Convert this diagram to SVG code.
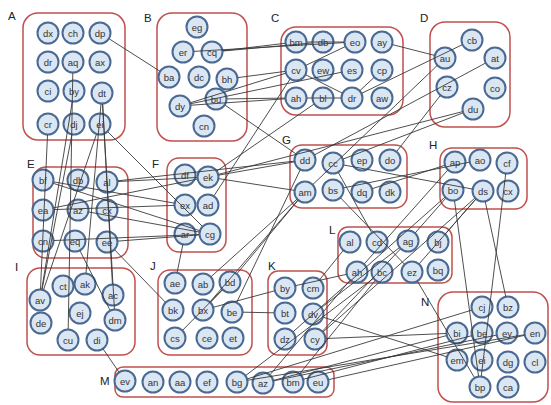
<svg xmlns="http://www.w3.org/2000/svg" width="551" height="405" viewBox="0 0 551 405">
  <style>
    .box { fill: none; stroke: #c0504d; stroke-width: 1.5; }
    .clabel { font-family: "Liberation Sans", Arial, sans-serif; font-size: 11.5px; fill: #222; }
    .n circle { fill: #dbe6f3; stroke: #4a6a94; stroke-width: 2; }
    .n text { font-family: "Liberation Sans", Arial, sans-serif; font-size: 9.5px; fill: #333; text-anchor: middle; dominant-baseline: central; }
    .edges line { stroke: #3a3a3a; stroke-width: 0.9; }
  </style>
  <rect width="551" height="405" fill="#ffffff"/>

  <!-- cluster frames -->
  <g id="clusters">
    <g id="cluster-A"><rect class="box" x="23" y="13" width="102" height="127" rx="15"/><text class="clabel" x="8" y="20">A</text></g>
    <g id="cluster-B"><rect class="box" x="157" y="13" width="90" height="128" rx="15"/><text class="clabel" x="144" y="22">B</text></g>
    <g id="cluster-C"><rect class="box" x="281" y="27" width="122" height="88" rx="15"/><text class="clabel" x="271" y="22">C</text></g>
    <g id="cluster-D"><rect class="box" x="430" y="22" width="80" height="105" rx="15"/><text class="clabel" x="420" y="22">D</text></g>
    <g id="cluster-E"><rect class="box" x="33" y="167" width="95" height="91" rx="13"/><text class="clabel" x="27" y="168">E</text></g>
    <g id="cluster-F"><rect class="box" x="167" y="158" width="59" height="94" rx="12"/><text class="clabel" x="152" y="168">F</text></g>
    <g id="cluster-G"><rect class="box" x="290" y="145" width="117" height="63" rx="12"/><text class="clabel" x="282" y="144">G</text></g>
    <g id="cluster-H"><rect class="box" x="440" y="148" width="87" height="61" rx="12"/><text class="clabel" x="429" y="149">H</text></g>
    <g id="cluster-I"><rect class="box" x="27" y="268" width="108" height="87" rx="13"/><text class="clabel" x="15" y="271">I</text></g>
    <g id="cluster-J"><rect class="box" x="158" y="270" width="94" height="85" rx="12"/><text class="clabel" x="150" y="270">J</text></g>
    <g id="cluster-K"><rect class="box" x="268" y="271" width="59" height="84" rx="10"/><text class="clabel" x="268" y="270">K</text></g>
    <g id="cluster-L"><rect class="box" x="338" y="227" width="114" height="56" rx="10"/><text class="clabel" x="329" y="234">L</text></g>
    <g id="cluster-M"><rect class="box" x="115" y="367" width="219" height="30" rx="8"/><text class="clabel" x="100" y="385">M</text></g>
    <g id="cluster-N"><rect class="box" x="438" y="292" width="110" height="110" rx="15"/><text class="clabel" x="421" y="306">N</text></g>
  </g>

  <!-- nodes -->
  <g id="nodes">
    <g id="A-dx" class="n" transform="translate(48,33)"><circle r="10.5"/><text>dx</text></g>
    <g id="A-ch" class="n" transform="translate(73,33)"><circle r="10.5"/><text>ch</text></g>
    <g id="A-dp" class="n" transform="translate(100,33)"><circle r="10.5"/><text>dp</text></g>
    <g id="A-dr" class="n" transform="translate(48,62)"><circle r="10.5"/><text>dr</text></g>
    <g id="A-aq" class="n" transform="translate(73,62)"><circle r="10.5"/><text>aq</text></g>
    <g id="A-ax" class="n" transform="translate(100,62)"><circle r="10.5"/><text>ax</text></g>
    <g id="A-ci" class="n" transform="translate(48,91)"><circle r="10.5"/><text>ci</text></g>
    <g id="A-by" class="n" transform="translate(74,91)"><circle r="10.5"/><text>by</text></g>
    <g id="A-dt" class="n" transform="translate(102,93)"><circle r="10.5"/><text>dt</text></g>
    <g id="A-cr" class="n" transform="translate(48,124)"><circle r="10.5"/><text>cr</text></g>
    <g id="A-dj" class="n" transform="translate(74,124)"><circle r="10.5"/><text>dj</text></g>
    <g id="A-ei" class="n" transform="translate(100,124)"><circle r="10.5"/><text>ei</text></g>

    <g id="B-eg" class="n" transform="translate(197,27)"><circle r="10.5"/><text>eg</text></g>
    <g id="B-er" class="n" transform="translate(183,52)"><circle r="10.5"/><text>er</text></g>
    <g id="B-cq" class="n" transform="translate(212,52)"><circle r="10.5"/><text>cq</text></g>
    <g id="B-ba" class="n" transform="translate(169,77)"><circle r="10.5"/><text>ba</text></g>
    <g id="B-dc" class="n" transform="translate(199,77)"><circle r="10.5"/><text>dc</text></g>
    <g id="B-bh" class="n" transform="translate(227,79)"><circle r="10.5"/><text>bh</text></g>
    <g id="B-dy" class="n" transform="translate(180,106)"><circle r="10.5"/><text>dy</text></g>
    <g id="B-bu" class="n" transform="translate(216,99)"><circle r="10.5"/><text>bu</text></g>
    <g id="B-cn" class="n" transform="translate(204,126)"><circle r="10.5"/><text>cn</text></g>

    <g id="C-bm" class="n" transform="translate(296,42)"><circle r="10.5"/><text>bm</text></g>
    <g id="C-db" class="n" transform="translate(323,42)"><circle r="10.5"/><text>db</text></g>
    <g id="C-eo" class="n" transform="translate(355,42)"><circle r="10.5"/><text>eo</text></g>
    <g id="C-ay" class="n" transform="translate(382,42)"><circle r="10.5"/><text>ay</text></g>
    <g id="C-cv" class="n" transform="translate(296,70)"><circle r="10.5"/><text>cv</text></g>
    <g id="C-ew" class="n" transform="translate(323,70)"><circle r="10.5"/><text>ew</text></g>
    <g id="C-es" class="n" transform="translate(352,70)"><circle r="10.5"/><text>es</text></g>
    <g id="C-cp" class="n" transform="translate(382,70)"><circle r="10.5"/><text>cp</text></g>
    <g id="C-ah" class="n" transform="translate(296,98)"><circle r="10.5"/><text>ah</text></g>
    <g id="C-bl" class="n" transform="translate(323,98)"><circle r="10.5"/><text>bl</text></g>
    <g id="C-dr" class="n" transform="translate(352,98)"><circle r="10.5"/><text>dr</text></g>
    <g id="C-aw" class="n" transform="translate(382,98)"><circle r="10.5"/><text>aw</text></g>

    <g id="D-cb" class="n" transform="translate(472,40)"><circle r="10.5"/><text>cb</text></g>
    <g id="D-au" class="n" transform="translate(445,58)"><circle r="10.5"/><text>au</text></g>
    <g id="D-at" class="n" transform="translate(495,58)"><circle r="10.5"/><text>at</text></g>
    <g id="D-cz" class="n" transform="translate(447,87)"><circle r="10.5"/><text>cz</text></g>
    <g id="D-co" class="n" transform="translate(495,88)"><circle r="10.5"/><text>co</text></g>
    <g id="D-du" class="n" transform="translate(473,109)"><circle r="10.5"/><text>du</text></g>

    <g id="E-bf" class="n" transform="translate(43,180)"><circle r="10.5"/><text>bf</text></g>
    <g id="E-db" class="n" transform="translate(78,180)"><circle r="10.5"/><text>db</text></g>
    <g id="E-al" class="n" transform="translate(107,182)"><circle r="10.5"/><text>al</text></g>
    <g id="E-ea" class="n" transform="translate(43,210)"><circle r="10.5"/><text>ea</text></g>
    <g id="E-az" class="n" transform="translate(78,210)"><circle r="10.5"/><text>az</text></g>
    <g id="E-cx" class="n" transform="translate(107,210)"><circle r="10.5"/><text>cx</text></g>
    <g id="E-cn" class="n" transform="translate(43,241)"><circle r="10.5"/><text>cn</text></g>
    <g id="E-eq" class="n" transform="translate(75,241)"><circle r="10.5"/><text>eq</text></g>
    <g id="E-ee" class="n" transform="translate(107,242)"><circle r="10.5"/><text>ee</text></g>

    <g id="F-df" class="n" transform="translate(185,175)"><circle r="10.5"/><text>df</text></g>
    <g id="F-ek" class="n" transform="translate(208,177)"><circle r="10.5"/><text>ek</text></g>
    <g id="F-ex" class="n" transform="translate(185,205)"><circle r="10.5"/><text>ex</text></g>
    <g id="F-ad" class="n" transform="translate(208,205)"><circle r="10.5"/><text>ad</text></g>
    <g id="F-ar" class="n" transform="translate(185,234)"><circle r="10.5"/><text>ar</text></g>
    <g id="F-cg" class="n" transform="translate(210,234)"><circle r="10.5"/><text>cg</text></g>

    <g id="G-dd" class="n" transform="translate(305,160)"><circle r="10.5"/><text>dd</text></g>
    <g id="G-cc" class="n" transform="translate(333,163)"><circle r="10.5"/><text>cc</text></g>
    <g id="G-ep" class="n" transform="translate(362,160)"><circle r="10.5"/><text>ep</text></g>
    <g id="G-do" class="n" transform="translate(390,160)"><circle r="10.5"/><text>do</text></g>
    <g id="G-am" class="n" transform="translate(305,192)"><circle r="10.5"/><text>am</text></g>
    <g id="G-bs" class="n" transform="translate(333,190)"><circle r="10.5"/><text>bs</text></g>
    <g id="G-dq" class="n" transform="translate(362,192)"><circle r="10.5"/><text>dq</text></g>
    <g id="G-dk" class="n" transform="translate(390,192)"><circle r="10.5"/><text>dk</text></g>

    <g id="H-ap" class="n" transform="translate(455,162)"><circle r="10.5"/><text>ap</text></g>
    <g id="H-ao" class="n" transform="translate(480,160)"><circle r="10.5"/><text>ao</text></g>
    <g id="H-cf" class="n" transform="translate(507,163)"><circle r="10.5"/><text>cf</text></g>
    <g id="H-bo" class="n" transform="translate(453,190)"><circle r="10.5"/><text>bo</text></g>
    <g id="H-ds" class="n" transform="translate(483,191)"><circle r="10.5"/><text>ds</text></g>
    <g id="H-cx" class="n" transform="translate(508,191)"><circle r="10.5"/><text>cx</text></g>

    <g id="I-av" class="n" transform="translate(40,300)"><circle r="10.5"/><text>av</text></g>
    <g id="I-ct" class="n" transform="translate(63,286)"><circle r="10.5"/><text>ct</text></g>
    <g id="I-ak" class="n" transform="translate(85,284)"><circle r="10.5"/><text>ak</text></g>
    <g id="I-ac" class="n" transform="translate(113,295)"><circle r="10.5"/><text>ac</text></g>
    <g id="I-ej" class="n" transform="translate(80,313)"><circle r="10.5"/><text>ej</text></g>
    <g id="I-de" class="n" transform="translate(41,323)"><circle r="10.5"/><text>de</text></g>
    <g id="I-dm" class="n" transform="translate(115,320)"><circle r="10.5"/><text>dm</text></g>
    <g id="I-cu" class="n" transform="translate(68,340)"><circle r="10.5"/><text>cu</text></g>
    <g id="I-di" class="n" transform="translate(97,340)"><circle r="10.5"/><text>di</text></g>

    <g id="J-ae" class="n" transform="translate(175,283)"><circle r="10.5"/><text>ae</text></g>
    <g id="J-ab" class="n" transform="translate(203,284)"><circle r="10.5"/><text>ab</text></g>
    <g id="J-bd" class="n" transform="translate(230,282)"><circle r="10.5"/><text>bd</text></g>
    <g id="J-bk" class="n" transform="translate(173,310)"><circle r="10.5"/><text>bk</text></g>
    <g id="J-bx" class="n" transform="translate(203,310)"><circle r="10.5"/><text>bx</text></g>
    <g id="J-be" class="n" transform="translate(232,312)"><circle r="10.5"/><text>be</text></g>
    <g id="J-cs" class="n" transform="translate(175,338)"><circle r="10.5"/><text>cs</text></g>
    <g id="J-ce" class="n" transform="translate(207,338)"><circle r="10.5"/><text>ce</text></g>
    <g id="J-et" class="n" transform="translate(233,338)"><circle r="10.5"/><text>et</text></g>

    <g id="K-by" class="n" transform="translate(285,288)"><circle r="10.5"/><text>by</text></g>
    <g id="K-cm" class="n" transform="translate(313,288)"><circle r="10.5"/><text>cm</text></g>
    <g id="K-bt" class="n" transform="translate(285,313)"><circle r="10.5"/><text>bt</text></g>
    <g id="K-dv" class="n" transform="translate(313,314)"><circle r="10.5"/><text>dv</text></g>
    <g id="K-dz" class="n" transform="translate(285,339)"><circle r="10.5"/><text>dz</text></g>
    <g id="K-cy" class="n" transform="translate(315,339)"><circle r="10.5"/><text>cy</text></g>

    <g id="L-al" class="n" transform="translate(350,242)"><circle r="10.5"/><text>al</text></g>
    <g id="L-cd" class="n" transform="translate(377,242)"><circle r="10.5"/><text>cd</text></g>
    <g id="L-ag" class="n" transform="translate(408,241)"><circle r="10.5"/><text>ag</text></g>
    <g id="L-bj" class="n" transform="translate(438,242)"><circle r="10.5"/><text>bj</text></g>
    <g id="L-ah" class="n" transform="translate(357,272)"><circle r="10.5"/><text>ah</text></g>
    <g id="L-bc" class="n" transform="translate(382,272)"><circle r="10.5"/><text>bc</text></g>
    <g id="L-ez" class="n" transform="translate(412,272)"><circle r="10.5"/><text>ez</text></g>
    <g id="L-bq" class="n" transform="translate(438,270)"><circle r="10.5"/><text>bq</text></g>

    <g id="M-ev" class="n" transform="translate(125,381)"><circle r="10.5"/><text>ev</text></g>
    <g id="M-an" class="n" transform="translate(153,382)"><circle r="10.5"/><text>an</text></g>
    <g id="M-aa" class="n" transform="translate(180,382)"><circle r="10.5"/><text>aa</text></g>
    <g id="M-ef" class="n" transform="translate(207,382)"><circle r="10.5"/><text>ef</text></g>
    <g id="M-bg" class="n" transform="translate(237,382)"><circle r="10.5"/><text>bg</text></g>
    <g id="M-az" class="n" transform="translate(263,383)"><circle r="10.5"/><text>az</text></g>
    <g id="M-bm" class="n" transform="translate(293,382)"><circle r="10.5"/><text>bm</text></g>
    <g id="M-eu" class="n" transform="translate(318,382)"><circle r="10.5"/><text>eu</text></g>

    <g id="N-cj" class="n" transform="translate(482,307)"><circle r="10.5"/><text>cj</text></g>
    <g id="N-bz" class="n" transform="translate(508,307)"><circle r="10.5"/><text>bz</text></g>
    <g id="N-bi" class="n" transform="translate(457,333)"><circle r="10.5"/><text>bi</text></g>
    <g id="N-be" class="n" transform="translate(482,333)"><circle r="10.5"/><text>be</text></g>
    <g id="N-ey" class="n" transform="translate(507,333)"><circle r="10.5"/><text>ey</text></g>
    <g id="N-en" class="n" transform="translate(535,333)"><circle r="10.5"/><text>en</text></g>
    <g id="N-em" class="n" transform="translate(457,360)"><circle r="10.5"/><text>em</text></g>
    <g id="N-ei" class="n" transform="translate(482,360)"><circle r="10.5"/><text>ei</text></g>
    <g id="N-dg" class="n" transform="translate(508,362)"><circle r="10.5"/><text>dg</text></g>
    <g id="N-cl" class="n" transform="translate(535,362)"><circle r="10.5"/><text>cl</text></g>
    <g id="N-bp" class="n" transform="translate(480,387)"><circle r="10.5"/><text>bp</text></g>
    <g id="N-ca" class="n" transform="translate(508,387)"><circle r="10.5"/><text>ca</text></g>
  </g>

  <!-- connectors, trimmed to node borders -->
  <g id="edges" class="edges">
    <line x1="109.3" y1="38.9" x2="159.7" y2="71.1"/>
    <line x1="222.9" y1="50.7" x2="285.1" y2="43.3"/>
    <line x1="223.0" y1="51.0" x2="312.0" y2="43.0"/>
    <line x1="194.0" y1="51.4" x2="344.0" y2="42.6"/>
    <line x1="237.9" y1="77.6" x2="285.1" y2="71.4"/>
    <line x1="190.5" y1="102.7" x2="285.5" y2="73.3"/>
    <line x1="190.8" y1="103.7" x2="341.2" y2="72.3"/>
    <line x1="191.0" y1="105.2" x2="285.0" y2="98.8"/>
    <line x1="227.0" y1="98.9" x2="285.0" y2="98.1"/>
    <line x1="307.0" y1="42.0" x2="344.0" y2="42.0"/>
    <line x1="305.8" y1="74.9" x2="342.2" y2="93.1"/>
    <line x1="307.0" y1="98.0" x2="341.0" y2="98.0"/>
    <line x1="360.0" y1="90.5" x2="374.0" y2="77.5"/>
    <line x1="305.9" y1="65.3" x2="345.1" y2="46.7"/>
    <line x1="392.7" y1="44.7" x2="434.3" y2="55.3"/>
    <line x1="225.1" y1="105.2" x2="295.9" y2="153.8"/>
    <line x1="437.1" y1="65.6" x2="313.0" y2="184.4"/>
    <line x1="485.3" y1="63.2" x2="314.7" y2="154.8"/>
    <line x1="462.1" y1="44.8" x2="361.9" y2="93.2"/>
    <line x1="462.7" y1="113.0" x2="343.3" y2="159.0"/>
    <line x1="462.3" y1="111.7" x2="218.7" y2="174.3"/>
    <line x1="396.8" y1="151.3" x2="440.2" y2="95.7"/>
    <line x1="214.0" y1="195.8" x2="290.0" y2="79.2"/>
    <line x1="217.1" y1="170.8" x2="313.9" y2="104.2"/>
    <line x1="218.8" y1="175.1" x2="294.2" y2="161.9"/>
    <line x1="218.9" y1="178.7" x2="294.1" y2="190.3"/>
    <line x1="53.5" y1="183.4" x2="199.5" y2="230.6"/>
    <line x1="117.9" y1="180.8" x2="294.1" y2="161.2"/>
    <line x1="118.0" y1="181.5" x2="197.0" y2="177.5"/>
    <line x1="53.8" y1="207.8" x2="197.2" y2="179.2"/>
    <line x1="54.0" y1="209.6" x2="174.0" y2="205.4"/>
    <line x1="88.8" y1="212.0" x2="199.2" y2="232.0"/>
    <line x1="53.8" y1="181.9" x2="174.2" y2="203.1"/>
    <line x1="54.0" y1="240.5" x2="199.0" y2="234.5"/>
    <line x1="118.0" y1="241.1" x2="199.0" y2="234.9"/>
    <line x1="182.8" y1="244.8" x2="177.2" y2="272.2"/>
    <line x1="114.7" y1="249.9" x2="165.3" y2="302.1"/>
    <line x1="80.0" y1="250.8" x2="110.0" y2="310.2"/>
    <line x1="47.5" y1="135.0" x2="40.5" y2="289.0"/>
    <line x1="71.9" y1="134.8" x2="42.1" y2="289.2"/>
    <line x1="72.2" y1="101.9" x2="41.8" y2="289.1"/>
    <line x1="96.4" y1="134.4" x2="43.6" y2="289.6"/>
    <line x1="72.8" y1="73.0" x2="68.2" y2="329.0"/>
    <line x1="101.0" y1="104.0" x2="86.0" y2="273.0"/>
    <line x1="102.6" y1="104.0" x2="112.4" y2="284.0"/>
    <line x1="102.6" y1="104.0" x2="114.4" y2="309.0"/>
    <line x1="107.8" y1="131.8" x2="202.2" y2="226.2"/>
    <line x1="103.2" y1="349.1" x2="118.8" y2="371.9"/>
    <line x1="343.8" y1="165.0" x2="472.2" y2="189.0"/>
    <line x1="338.4" y1="172.6" x2="371.6" y2="232.4"/>
    <line x1="340.6" y1="197.9" x2="404.4" y2="264.1"/>
    <line x1="343.8" y1="187.8" x2="469.2" y2="162.2"/>
    <line x1="372.5" y1="188.6" x2="444.5" y2="165.4"/>
    <line x1="298.0" y1="200.4" x2="237.0" y2="273.6"/>
    <line x1="297.8" y1="200.3" x2="210.2" y2="301.7"/>
    <line x1="296.8" y1="199.4" x2="211.2" y2="276.6"/>
    <line x1="475.7" y1="199.3" x2="445.3" y2="233.8"/>
    <line x1="475.7" y1="199.3" x2="419.3" y2="263.7"/>
    <line x1="445.7" y1="198.3" x2="415.3" y2="232.8"/>
    <line x1="447.7" y1="170.2" x2="364.3" y2="263.8"/>
    <line x1="454.5" y1="200.9" x2="478.5" y2="376.1"/>
    <line x1="505.7" y1="173.9" x2="481.3" y2="376.1"/>
    <line x1="485.3" y1="201.8" x2="505.7" y2="296.3"/>
    <line x1="417.6" y1="281.5" x2="474.4" y2="377.5"/>
    <line x1="213.6" y1="307.2" x2="274.4" y2="290.9"/>
    <line x1="243.0" y1="312.2" x2="274.0" y2="312.8"/>
    <line x1="182.7" y1="330.2" x2="222.3" y2="289.8"/>
    <line x1="210.6" y1="302.1" x2="222.4" y2="289.9"/>
    <line x1="349.9" y1="280.4" x2="270.1" y2="374.6"/>
    <line x1="375.1" y1="280.6" x2="299.9" y2="373.5"/>
    <line x1="400.4" y1="249.0" x2="322.6" y2="331.0"/>
    <line x1="474.7" y1="198.3" x2="323.3" y2="331.7"/>
    <line x1="471.5" y1="310.2" x2="247.5" y2="378.8"/>
    <line x1="446.3" y1="335.7" x2="273.7" y2="380.3"/>
    <line x1="471.3" y1="335.8" x2="303.7" y2="379.2"/>
    <line x1="496.2" y1="335.2" x2="273.8" y2="380.8"/>
    <line x1="524.3" y1="335.4" x2="328.7" y2="379.6"/>
    <line x1="524.1" y1="334.8" x2="247.9" y2="380.2"/>
    <line x1="323.5" y1="317.3" x2="446.5" y2="356.7"/>
    <line x1="326.0" y1="338.5" x2="446.0" y2="333.5"/>
    <line x1="236.8" y1="302.1" x2="300.2" y2="169.9"/>
    <line x1="295.7" y1="285.6" x2="346.3" y2="274.4"/>
    <line x1="319.9" y1="279.4" x2="343.1" y2="250.6"/>
    <line x1="321.7" y1="307.3" x2="399.3" y2="247.7"/>
    <line x1="245.8" y1="375.4" x2="373.2" y2="278.6"/>
    <line x1="293.2" y1="331.7" x2="444.8" y2="197.3"/>
  </g>
</svg>
